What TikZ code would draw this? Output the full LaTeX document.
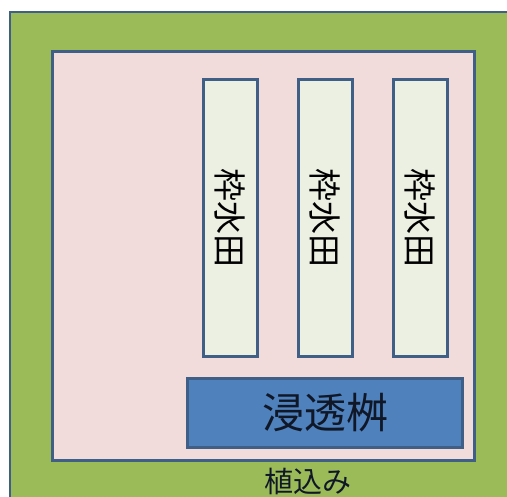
\documentclass[tikz,border=0pt]{standalone}
\usepackage{fontspec}
\newfontfamily\jp{Noto Sans CJK JP}
\definecolor{grassgreen}{HTML}{9BBB59}
\definecolor{edgeblue}{HTML}{3F5F86}
\definecolor{pinkfill}{HTML}{F1DCDB}
\definecolor{paddyfill}{HTML}{ECF0E3}
\definecolor{pitblue}{HTML}{4F81BD}
\definecolor{textdark}{HTML}{101828}
\tikzset{
  outerbox/.style={draw=edgeblue, line width=2pt, fill=grassgreen},
  innerbox/.style={draw=edgeblue, line width=3pt, fill=pinkfill},
  paddy/.style={draw=edgeblue, line width=3pt, fill=paddyfill, minimum width=54pt, minimum height=277pt, inner sep=0pt},
  pit/.style={draw=edgeblue, line width=3pt, fill=pitblue, minimum width=275pt, minimum height=69pt, inner sep=0pt, font=\jp\fontsize{42}{44}\selectfont, text=textdark},
  paddytext/.style={font=\jp\fontsize{33}{35}\selectfont, rotate=-90, text=black},
  label/.style={font=\jp\fontsize{29}{30}\selectfont, text=textdark}
}
\begin{document}
\begin{tikzpicture}[x=1pt,y=-1pt]
\useasboundingbox (0,0) rectangle (507,497);
\clip (0,0) rectangle (507,497);
\fill[white] (0,0) rectangle (507,497);
\path[outerbox] (10,12) rectangle (520,510);
\path[innerbox] (52,52) rectangle (474,461);
\node[paddy] (p1) at (230.5,218) {};
\node[paddy] (p2) at (325,218) {};
\node[paddy] (p3) at (420,218) {};
\node[paddytext] (t1) at (p1.center) {枠水田};
\node[paddytext] (t2) at (p2.center) {枠水田};
\node[paddytext] (t3) at (p3.center) {枠水田};
\node[pit] (pit) at (325,413) {浸透桝};
\node[label] (plant) at (308,481) {植込み};
\end{tikzpicture}
\end{document}
